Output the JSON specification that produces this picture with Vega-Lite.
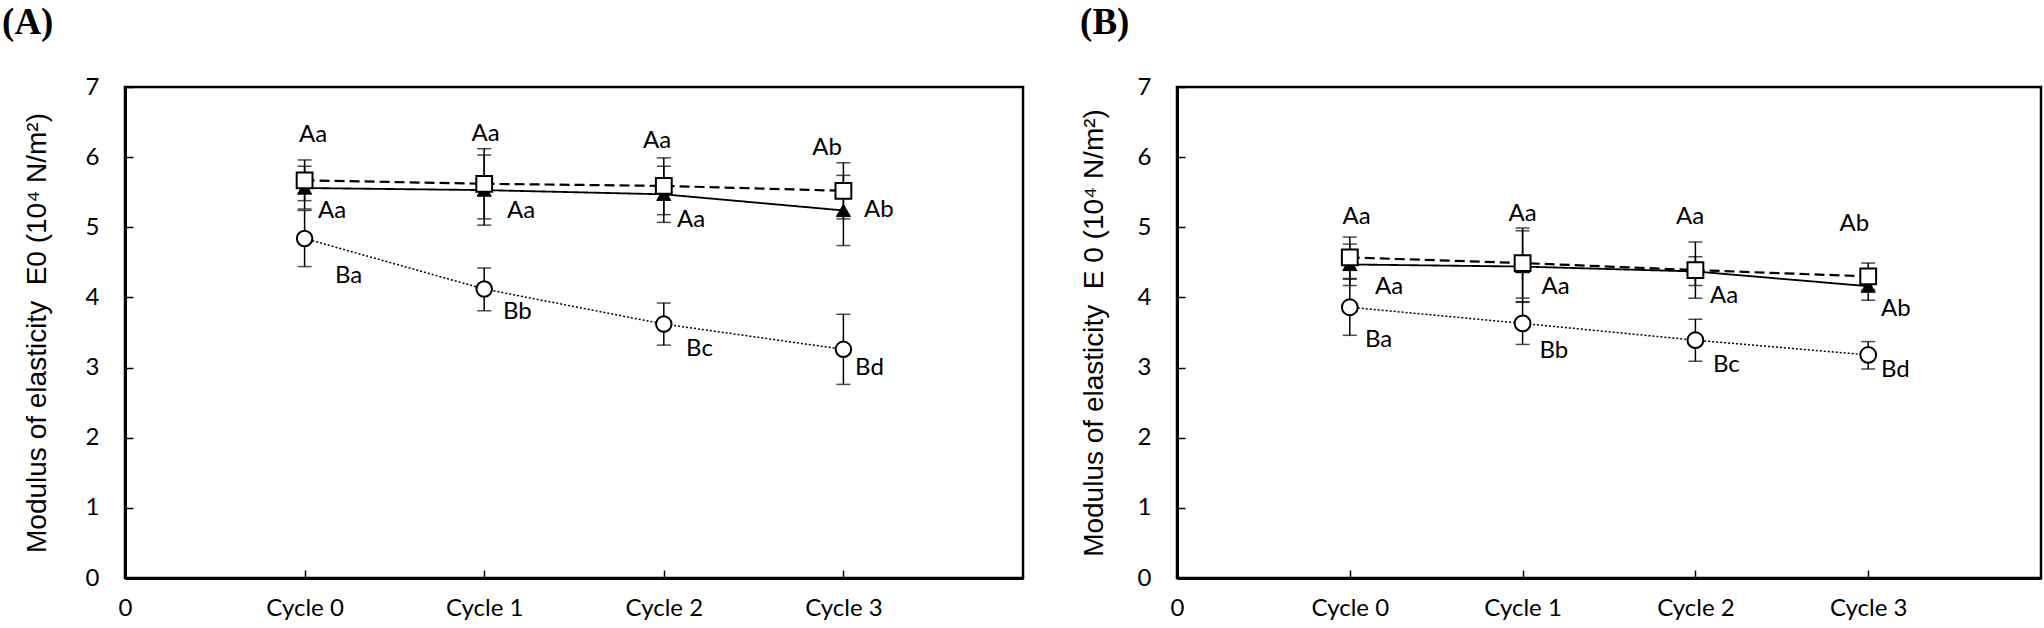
{
  "$schema": "https://vega.github.io/schema/vega-lite/v6.json",
  "background": "white",
  "padding": {"left": 0, "top": 2, "right": 0, "bottom": 0},
  "spacing": 53,
  "config": {
    "view": {"stroke": "black", "strokeWidth": 2.5},
    "axis": {
      "domainColor": "black", "domainWidth": 3, "tickColor": "black", "tickWidth": 1.5, "tickSize": -8,
      "grid": false, "labelFont": "Lato", "labelFontSize": 24, "labelColor": "black",
      "titleFont": "Liberation Sans", "titleFontSize": 28, "titleFontWeight": "normal", "titleColor": "black"
    },
    "legend": {"strokeWidth": 3},
    "title": {"font": "Liberation Serif", "fontSize": 37, "fontWeight": "bold", "color": "black", "anchor": "start", "frame": "bounds", "offset": 33},
    "text": {"font": "Lato", "fontSize": 24, "color": "black"}
  },
  "resolve": {"scale": {"strokeDash": "independent", "strokeWidth": "independent", "shape": "independent"}},
  "datasets": {
    "pts": [
      {"panel": "A", "series": "Control", "x": 1, "y": 4.84, "lo": 4.44, "hi": 5.24},
      {"panel": "A", "series": "Control", "x": 2, "y": 4.12, "lo": 3.81, "hi": 4.42},
      {"panel": "A", "series": "Control", "x": 3, "y": 3.62, "lo": 3.32, "hi": 3.92},
      {"panel": "A", "series": "Control", "x": 4, "y": 3.26, "lo": 2.76, "hi": 3.76},
      {"panel": "A", "series": "+0.03% OEx4", "x": 1, "y": 5.56, "lo": 5.26, "hi": 5.87},
      {"panel": "A", "series": "+0.03% OEx4", "x": 2, "y": 5.53, "lo": 5.03, "hi": 6.03},
      {"panel": "A", "series": "+0.03% OEx4", "x": 3, "y": 5.47, "lo": 5.07, "hi": 5.87},
      {"panel": "A", "series": "+0.03% OEx4", "x": 4, "y": 5.24, "lo": 4.74, "hi": 5.74},
      {"panel": "A", "series": "+0.1% OEx4", "x": 1, "y": 5.67, "lo": 5.38, "hi": 5.96},
      {"panel": "A", "series": "+0.1% OEx4", "x": 2, "y": 5.62, "lo": 5.12, "hi": 6.12},
      {"panel": "A", "series": "+0.1% OEx4", "x": 3, "y": 5.59, "lo": 5.18, "hi": 5.99},
      {"panel": "A", "series": "+0.1% OEx4", "x": 4, "y": 5.52, "lo": 5.12, "hi": 5.92},
      {"panel": "B", "series": "Control", "x": 1, "y": 3.86, "lo": 3.46, "hi": 4.26},
      {"panel": "B", "series": "Control", "x": 2, "y": 3.63, "lo": 3.33, "hi": 3.93},
      {"panel": "B", "series": "Control", "x": 3, "y": 3.39, "lo": 3.09, "hi": 3.69},
      {"panel": "B", "series": "Control", "x": 4, "y": 3.18, "lo": 2.98, "hi": 3.37},
      {"panel": "B", "series": "+0.03% OEx4", "x": 1, "y": 4.47, "lo": 4.17, "hi": 4.76},
      {"panel": "B", "series": "+0.03% OEx4", "x": 2, "y": 4.44, "lo": 3.94, "hi": 4.95},
      {"panel": "B", "series": "+0.03% OEx4", "x": 3, "y": 4.37, "lo": 4.17, "hi": 4.58},
      {"panel": "B", "series": "+0.03% OEx4", "x": 4, "y": 4.16, "lo": 3.96, "hi": 4.36},
      {"panel": "B", "series": "+0.1% OEx4", "x": 1, "y": 4.57, "lo": 4.27, "hi": 4.86},
      {"panel": "B", "series": "+0.1% OEx4", "x": 2, "y": 4.49, "lo": 3.99, "hi": 4.99},
      {"panel": "B", "series": "+0.1% OEx4", "x": 3, "y": 4.39, "lo": 3.99, "hi": 4.79},
      {"panel": "B", "series": "+0.1% OEx4", "x": 4, "y": 4.30, "lo": 4.11, "hi": 4.49}
    ],
    "labels": [
      {"panel": "A", "kind": "top", "label": "Aa", "lx": 1.047, "ly": 6.32},
      {"panel": "A", "kind": "top", "label": "Aa", "lx": 2.008, "ly": 6.33},
      {"panel": "A", "kind": "top", "label": "Aa", "lx": 2.962, "ly": 6.23},
      {"panel": "A", "kind": "top", "label": "Ab", "lx": 3.909, "ly": 6.13},
      {"panel": "A", "kind": "side", "label": "Aa", "lx": 1.075, "ly": 5.23},
      {"panel": "A", "kind": "side", "label": "Aa", "lx": 2.127, "ly": 5.23},
      {"panel": "A", "kind": "side", "label": "Aa", "lx": 3.073, "ly": 5.10},
      {"panel": "A", "kind": "side", "label": "Ab", "lx": 4.115, "ly": 5.24},
      {"panel": "A", "kind": "side", "label": "Ba", "lx": 1.169, "ly": 4.31},
      {"panel": "A", "kind": "side", "label": "Bb", "lx": 2.105, "ly": 3.79},
      {"panel": "A", "kind": "side", "label": "Bc", "lx": 3.124, "ly": 3.26},
      {"panel": "A", "kind": "side", "label": "Bd", "lx": 4.065, "ly": 3.00},
      {"panel": "B", "kind": "top", "label": "Aa", "lx": 1.04, "ly": 5.14},
      {"panel": "B", "kind": "top", "label": "Aa", "lx": 2.0, "ly": 5.19},
      {"panel": "B", "kind": "top", "label": "Aa", "lx": 2.97, "ly": 5.14},
      {"panel": "B", "kind": "top", "label": "Ab", "lx": 3.92, "ly": 5.04},
      {"panel": "B", "kind": "side", "label": "Aa", "lx": 1.146, "ly": 4.15},
      {"panel": "B", "kind": "side", "label": "Aa", "lx": 2.109, "ly": 4.15},
      {"panel": "B", "kind": "side", "label": "Aa", "lx": 3.084, "ly": 4.02},
      {"panel": "B", "kind": "side", "label": "Ab", "lx": 4.074, "ly": 3.84},
      {"panel": "B", "kind": "side", "label": "Ba", "lx": 1.088, "ly": 3.40},
      {"panel": "B", "kind": "side", "label": "Bb", "lx": 2.098, "ly": 3.24},
      {"panel": "B", "kind": "side", "label": "Bc", "lx": 3.102, "ly": 3.04},
      {"panel": "B", "kind": "side", "label": "Bd", "lx": 4.074, "ly": 2.96}
    ]
  },
  "hconcat": [
    {
      "width": 898, "height": 491,
      "title": {"text": "(A)", "dx": -21},
      "layer": [
        {
          "data": {"name": "pts"}, "transform": [{"filter": "datum.panel === 'A'"}],
          "mark": {"type": "rule", "color": "black", "strokeWidth": 1.5},
          "encoding": {
            "x": {"field": "x", "type": "quantitative", "scale": {"domain": [0, 5], "nice": false},
                  "axis": {"values": [0, 1, 2, 3, 4], "labelExpr": "datum.value === 0 ? '0' : 'Cycle ' + (datum.value - 1)", "title": null, "labelPadding": 26, "labelFlush": false}},
            "y": {"field": "lo", "type": "quantitative", "scale": {"domain": [0, 7], "nice": false},
                  "axis": {"values": [0, 1, 2, 3, 4, 5, 6, 7], "format": "d", "title": "Modulus of elasticity\u00a0\u00a0E0 (10⁴ N/m²)", "labelPadding": 34, "titlePadding": 34}},
            "y2": {"field": "hi"}
          }
        },
        {
          "data": {"name": "pts"}, "transform": [{"filter": "datum.panel === 'A'"}, {"fold": ["lo", "hi"], "as": ["end", "v"]}],
          "mark": {"type": "tick", "orient": "horizontal", "size": 14, "thickness": 1.5, "color": "black"},
          "encoding": {"x": {"field": "x", "type": "quantitative"}, "y": {"field": "v", "type": "quantitative"}}
        },
        {
          "data": {"name": "pts"}, "transform": [{"filter": "datum.panel === 'A'"}],
          "mark": {"type": "line", "color": "black"},
          "encoding": {
            "x": {"field": "x", "type": "quantitative"},
            "y": {"field": "y", "type": "quantitative"},
            "strokeWidth": {"field": "series", "type": "nominal", "scale": {"domain": ["Control", "+0.03% OEx4", "+0.1% OEx4"], "range": [1.5, 2.2, 2.2]}, "legend": null},
            "strokeDash": {"field": "series", "type": "nominal", "scale": {"domain": ["Control", "+0.03% OEx4", "+0.1% OEx4"], "range": [[2, 2], [1, 0], [10, 5]]}, "legend": null}
          }
        },
        {
          "data": {"name": "pts"}, "transform": [{"filter": "datum.panel === 'A' && datum.series === 'Control'"}],
          "mark": {"type": "point", "shape": "circle", "size": 240, "filled": true, "fill": "white", "stroke": "black", "strokeWidth": 2, "opacity": 1},
          "encoding": {"x": {"field": "x", "type": "quantitative"}, "y": {"field": "y", "type": "quantitative"}}
        },
        {
          "data": {"name": "pts"}, "transform": [{"filter": "datum.panel === 'A' && datum.series === '+0.03% OEx4'"}],
          "mark": {"type": "point", "shape": "triangle-up", "size": 200, "filled": true, "fill": "black", "stroke": "black", "strokeWidth": 1, "opacity": 1},
          "encoding": {"x": {"field": "x", "type": "quantitative"}, "y": {"field": "y", "type": "quantitative"}}
        },
        {
          "data": {"name": "pts"}, "transform": [{"filter": "datum.panel === 'A' && datum.series === '+0.1% OEx4'"}],
          "mark": {"type": "point", "shape": "square", "size": 250, "filled": true, "fill": "white", "stroke": "black", "strokeWidth": 2, "opacity": 1},
          "encoding": {"x": {"field": "x", "type": "quantitative"}, "y": {"field": "y", "type": "quantitative"}}
        },
        {
          "data": {"name": "pts"}, "transform": [{"filter": "false"}],
          "mark": {"type": "point", "filled": true, "fill": "black", "size": 4},
          "encoding": {
            "x": {"field": "x", "type": "quantitative"},
            "y": {"field": "y", "type": "quantitative"},
            "shape": {"field": "series", "type": "nominal",
              "scale": {"domain": ["Control", "+0.03% OEx4", "+0.1% OEx4"], "range": [
                "M8,-0.7h1.6v1.4h-1.6ZM11,-0.7h1.6v1.4h-1.6ZM14,-0.7h1.6v1.4h-1.6ZM17,-0.7h1.6v1.4h-1.6ZM20,-0.7h1.6v1.4h-1.6ZM23,-0.7h1.6v1.4h-1.6ZM26,-0.7h1.6v1.4h-1.6ZM29,-0.7h1.6v1.4h-1.6ZM32,-0.7h1.6v1.4h-1.6ZM35,-0.7h1.6v1.4h-1.6ZM56,0A9,9 0 1,1 38,0A9,9 0 1,1 56,0ZM54,0A7,7 0 1,0 40,0A7,7 0 1,0 54,0ZM57,-0.7h1.6v1.4h-1.6ZM60,-0.7h1.6v1.4h-1.6ZM63,-0.7h1.6v1.4h-1.6ZM66,-0.7h1.6v1.4h-1.6ZM69,-0.7h1.6v1.4h-1.6ZM72,-0.7h1.6v1.4h-1.6ZM75,-0.7h1.6v1.4h-1.6ZM78,-0.7h1.6v1.4h-1.6ZM81,-0.7h1.6v1.4h-1.6Z",
                "M8,-1H86V1H8ZM47,-8L55,6L39,6Z",
                "M8,-1H16V1H8ZM24,-1H32V1H24ZM38,-9H56V9H38ZM40,-7V7H54V-7ZM56,-1H64V1H56ZM72,-1H81V1H72Z"
              ]},
              "legend": {
                "orient": "none", "legendX": 561, "legendY": 333, "title": null, "padding": 8,
                "strokeColor": "black", "labelFont": "Lato", "labelFontSize": 25, "labelColor": "black", "labelLimit": 400,
                "symbolSize": 4, "symbolOpacity": 1, "symbolFillColor": "black", "symbolStrokeWidth": 0, "symbolStrokeColor": "transparent",
                "labelOffset": 83, "rowPadding": 12
              }
            }
          }
        },
        {
          "data": {"name": "labels"}, "transform": [{"filter": "datum.panel === 'A' && datum.kind === 'top'"}],
          "mark": {"type": "text", "align": "center", "baseline": "middle"},
          "encoding": {"x": {"field": "lx", "type": "quantitative"}, "y": {"field": "ly", "type": "quantitative"}, "text": {"field": "label"}}
        },
        {
          "data": {"name": "labels"}, "transform": [{"filter": "datum.panel === 'A' && datum.kind === 'side'"}],
          "mark": {"type": "text", "align": "left", "baseline": "middle"},
          "encoding": {"x": {"field": "lx", "type": "quantitative"}, "y": {"field": "ly", "type": "quantitative"}, "text": {"field": "label"}}
        }
      ]
    },
    {
      "width": 864, "height": 491,
      "title": {"text": "(B)"},
      "layer": [
        {
          "data": {"name": "pts"}, "transform": [{"filter": "datum.panel === 'B'"}],
          "mark": {"type": "rule", "color": "black", "strokeWidth": 1.5},
          "encoding": {
            "x": {"field": "x", "type": "quantitative", "scale": {"domain": [0, 5], "nice": false},
                  "axis": {"values": [0, 1, 2, 3, 4], "labelExpr": "datum.value === 0 ? '0' : 'Cycle ' + (datum.value - 1)", "title": null, "labelPadding": 26, "labelFlush": false}},
            "y": {"field": "lo", "type": "quantitative", "scale": {"domain": [0, 7], "nice": false},
                  "axis": {"values": [0, 1, 2, 3, 4, 5, 6, 7], "format": "d", "title": "Modulus of elasticity\u00a0\u00a0E 0 (10⁴ N/m²)", "labelPadding": 34, "titlePadding": 29}},
            "y2": {"field": "hi"}
          }
        },
        {
          "data": {"name": "pts"}, "transform": [{"filter": "datum.panel === 'B'"}, {"fold": ["lo", "hi"], "as": ["end", "v"]}],
          "mark": {"type": "tick", "orient": "horizontal", "size": 14, "thickness": 1.5, "color": "black"},
          "encoding": {"x": {"field": "x", "type": "quantitative"}, "y": {"field": "v", "type": "quantitative"}}
        },
        {
          "data": {"name": "pts"}, "transform": [{"filter": "datum.panel === 'B'"}],
          "mark": {"type": "line", "color": "black"},
          "encoding": {
            "x": {"field": "x", "type": "quantitative"},
            "y": {"field": "y", "type": "quantitative"},
            "strokeWidth": {"field": "series", "type": "nominal", "scale": {"domain": ["Control", "+0.03% OEx4", "+0.1% OEx4"], "range": [1.5, 2.2, 2.2]}, "legend": null},
            "strokeDash": {"field": "series", "type": "nominal", "scale": {"domain": ["Control", "+0.03% OEx4", "+0.1% OEx4"], "range": [[2, 2], [1, 0], [10, 5]]}, "legend": null}
          }
        },
        {
          "data": {"name": "pts"}, "transform": [{"filter": "datum.panel === 'B' && datum.series === 'Control'"}],
          "mark": {"type": "point", "shape": "circle", "size": 250, "filled": true, "fill": "white", "stroke": "black", "strokeWidth": 2, "opacity": 1},
          "encoding": {"x": {"field": "x", "type": "quantitative"}, "y": {"field": "y", "type": "quantitative"}}
        },
        {
          "data": {"name": "pts"}, "transform": [{"filter": "datum.panel === 'B' && datum.series === '+0.03% OEx4'"}],
          "mark": {"type": "point", "shape": "triangle-up", "size": 200, "filled": true, "fill": "black", "stroke": "black", "strokeWidth": 1, "opacity": 1},
          "encoding": {"x": {"field": "x", "type": "quantitative"}, "y": {"field": "y", "type": "quantitative"}}
        },
        {
          "data": {"name": "pts"}, "transform": [{"filter": "datum.panel === 'B' && datum.series === '+0.1% OEx4'"}],
          "mark": {"type": "point", "shape": "square", "size": 250, "filled": true, "fill": "white", "stroke": "black", "strokeWidth": 2, "opacity": 1},
          "encoding": {"x": {"field": "x", "type": "quantitative"}, "y": {"field": "y", "type": "quantitative"}}
        },
        {
          "data": {"name": "pts"}, "transform": [{"filter": "false"}],
          "mark": {"type": "point", "filled": true, "fill": "black", "size": 4},
          "encoding": {
            "x": {"field": "x", "type": "quantitative"},
            "y": {"field": "y", "type": "quantitative"},
            "shape": {"field": "series", "type": "nominal",
              "scale": {"domain": ["Control", "+0.03% OEx4", "+0.1% OEx4"], "range": [
                "M2,-0.7h1.6v1.4h-1.6ZM5,-0.7h1.6v1.4h-1.6ZM8,-0.7h1.6v1.4h-1.6ZM11,-0.7h1.6v1.4h-1.6ZM14,-0.7h1.6v1.4h-1.6ZM17,-0.7h1.6v1.4h-1.6ZM20,-0.7h1.6v1.4h-1.6ZM23,-0.7h1.6v1.4h-1.6ZM26,-0.7h1.6v1.4h-1.6ZM29,-0.7h1.6v1.4h-1.6ZM46.5,0A7.5,7.5 0 1,1 31.5,0A7.5,7.5 0 1,1 46.5,0ZM44.5,0A5.5,5.5 0 1,0 33.5,0A5.5,5.5 0 1,0 44.5,0ZM48,-0.7h1.6v1.4h-1.6ZM51,-0.7h1.6v1.4h-1.6ZM54,-0.7h1.6v1.4h-1.6ZM57,-0.7h1.6v1.4h-1.6ZM60,-0.7h1.6v1.4h-1.6ZM63,-0.7h1.6v1.4h-1.6ZM66,-0.7h1.6v1.4h-1.6ZM69,-0.7h1.6v1.4h-1.6ZM72,-0.7h1.6v1.4h-1.6Z",
                "M2,-1H75V1H2ZM39,-7L46.5,6L31.5,6Z",
                "M2,-1H9V1H2ZM16,-1H23V1H16ZM31.5,-7.5H46.5V7.5H31.5ZM33.5,-5.5V5.5H44.5V-5.5ZM46.5,-1H53V1H46.5ZM60,-1H67V1H60Z"
              ]},
              "legend": {
                "orient": "none", "legendX": 556, "legendY": 349, "title": null, "padding": 8,
                "strokeColor": "black", "labelFont": "Lato", "labelFontSize": 25, "labelColor": "black", "labelLimit": 400,
                "symbolSize": 4, "symbolOpacity": 1, "symbolFillColor": "black", "symbolStrokeWidth": 0, "symbolStrokeColor": "transparent",
                "labelOffset": 75, "rowPadding": 10
              }
            }
          }
        },
        {
          "data": {"name": "labels"}, "transform": [{"filter": "datum.panel === 'B' && datum.kind === 'top'"}],
          "mark": {"type": "text", "align": "center", "baseline": "middle"},
          "encoding": {"x": {"field": "lx", "type": "quantitative"}, "y": {"field": "ly", "type": "quantitative"}, "text": {"field": "label"}}
        },
        {
          "data": {"name": "labels"}, "transform": [{"filter": "datum.panel === 'B' && datum.kind === 'side'"}],
          "mark": {"type": "text", "align": "left", "baseline": "middle"},
          "encoding": {"x": {"field": "lx", "type": "quantitative"}, "y": {"field": "ly", "type": "quantitative"}, "text": {"field": "label"}}
        }
      ]
    }
  ]
}
